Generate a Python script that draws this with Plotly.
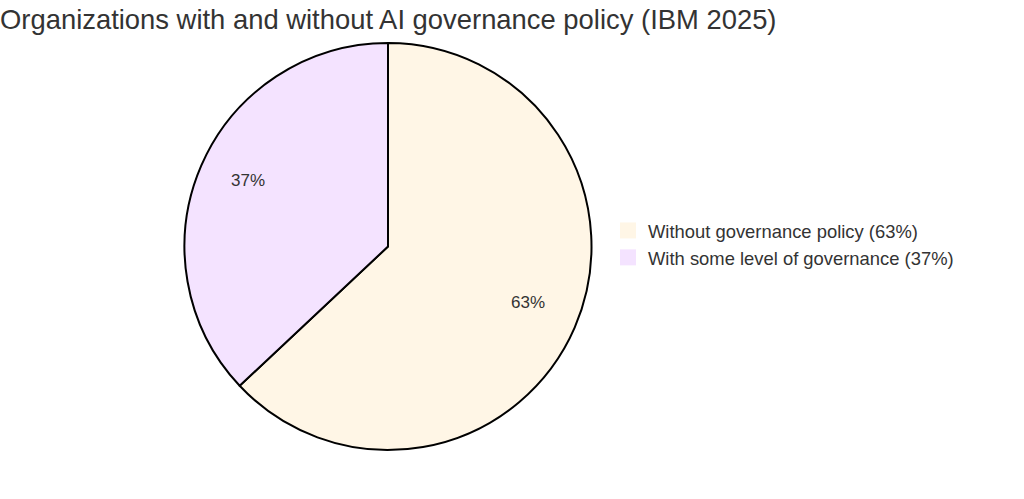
import math
import plotly.graph_objects as go

labels = ["Without governance policy (63%)", "With some level of governance (37%)"]
values = [63, 37]
text_labels = ["63%", "37%"]
colors = ["#FFF6E6", "#F4E3FF"]

W, H = 1024, 499
mt, mb = 43, 49
FONT = "Liberation Sans, Arial, sans-serif"

dom_x = [184 / W, 592 / W]
fig = go.Figure()
fig.add_trace(go.Pie(
    labels=labels,
    values=values,
    textinfo="none",
    sort=False,
    direction="clockwise",
    rotation=0,
    marker=dict(colors=colors, line=dict(color="#000000", width=2)),
    domain=dict(x=dom_x, y=[0, 1]),
    hoverinfo="label+percent",
    showlegend=False,
))

# legend entries (filled squares, no border) for each category
for lab, col in zip(labels, colors):
    fig.add_trace(go.Scatter(
        x=[None], y=[None], mode="markers", name=lab,
        marker=dict(symbol="square", size=16, color=col, line=dict(width=0)),
        showlegend=True, hoverinfo="skip",
    ))

# slice labels at 0.75 of the radius along each slice's bisector
plot_h = H - mt - mb
cx_px = (dom_x[0] + dom_x[1]) / 2 * W
cy_px = mt + plot_h / 2
r_px = min((dom_x[1] - dom_x[0]) * W, plot_h) / 2
total = sum(values)
cum = 0
for v, t in zip(values, text_labels):
    mid = (cum + v / 2) / total * 2 * math.pi
    cum += v
    px = cx_px + 0.75 * r_px * math.sin(mid)
    py = cy_px - 0.75 * r_px * math.cos(mid)
    fig.add_annotation(
        x=px / W, y=(H - mb - py) / plot_h, xref="paper", yref="paper",
        text=t, showarrow=False, xanchor="center", yanchor="middle", yshift=5,
        font=dict(family=FONT, size=17, color="#333333"),
    )

fig.update_layout(
    width=W, height=H,
    margin=dict(l=0, r=0, t=mt, b=mb),
    paper_bgcolor="white",
    plot_bgcolor="white",
    font=dict(family=FONT, color="#333333"),
    xaxis=dict(visible=False),
    yaxis=dict(visible=False),
    title=dict(
        text="Organizations with and without AI governance policy (IBM 2025)",
        x=0, xanchor="left", xref="paper",
        y=1 - 19 / H, yanchor="middle", yref="container",
        font=dict(size=27.4, color="#333333"),
        pad=dict(l=0),
    ),
    showlegend=True,
    legend=dict(
        x=608 / W, xanchor="left",
        y=(H - mb - 244) / plot_h, yanchor="middle",
        font=dict(size=18.4, color="#333333"),
        itemsizing="trace",
        tracegroupgap=0,
    ),
)

fig.write_html("out.html")
